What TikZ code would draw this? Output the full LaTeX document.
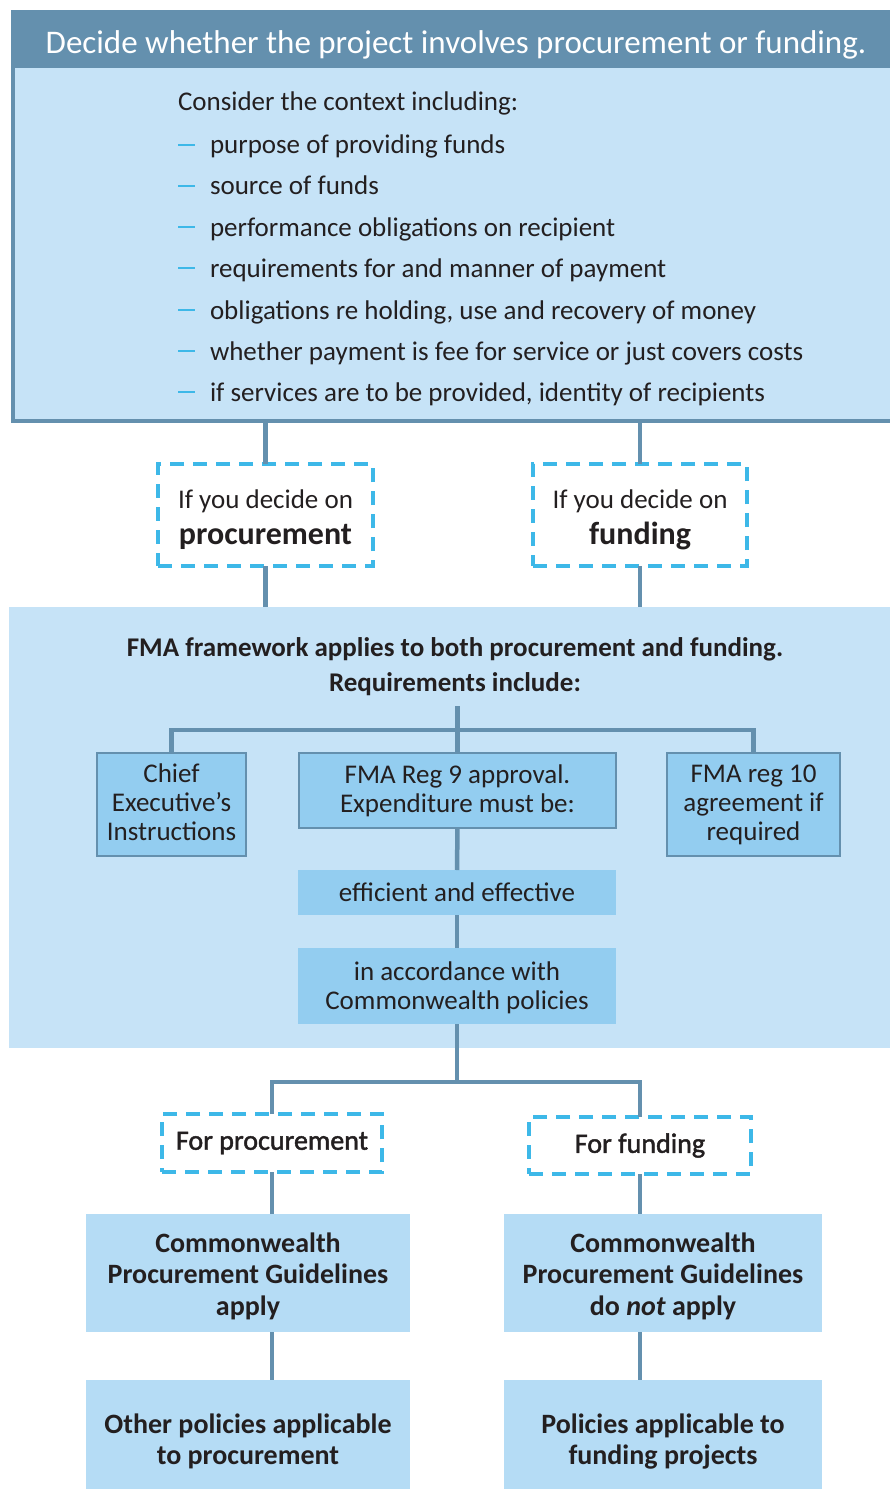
\documentclass[tikz,border=0pt]{standalone}
\usepackage{fontspec}
\setmainfont{Carlito}
\newfontfamily\semibold{Carlito}[FakeBold=1.6]
\definecolor{dark}{RGB}{100,144,174}
\definecolor{light}{RGB}{198,227,247}
\definecolor{medium}{RGB}{147,205,240}
\definecolor{pale}{RGB}{181,220,245}
\definecolor{cyanline}{RGB}{61,184,232}
\definecolor{ink}{RGB}{35,31,32}
\begin{document}
\begin{tikzpicture}[x=1pt,y=-1pt,
  every node/.style={inner sep=0pt,outer sep=0pt,text=ink},
  conn/.style={draw=dark,line width=4.5pt},
  dbox/.style={draw=cyanline,line width=4pt,dash pattern=on 14pt off 9pt,fill=white},
  midbox/.style={draw=dark,line width=2.5pt,fill=medium},
  plainbox/.style={fill=medium},
  palebox/.style={fill=pale},
  boxtext/.style={align=center,font=\fontsize{27}{29}\selectfont},
  paletext/.style={align=center,font=\bfseries\fontsize{28}{31.5}\selectfont},
  item/.style={anchor=base west,font=\fontsize{27}{30}\selectfont},
  bullet/.style={draw=cyanline,line width=1.8pt}]
\useasboundingbox (0,0) rectangle (890,1490);
\fill[white] (0,0) rectangle (890,1490);
% top box
\node[draw=dark,line width=4pt,fill=light,minimum width=884pt,minimum height=409pt,anchor=north west] (top) at (13,12) {};
\node[fill=dark,minimum width=884pt,minimum height=56pt,anchor=north west] (hdr) at (11,12) {};
\node[anchor=base,text=white,font=\fontsize{33}{38}\selectfont] (title) at (456,54) {Decide whether the project involves procurement or funding.};
\node[item] (intro) at (178,111) {Consider the context including:};
\node[item] (i1) at (210,154) {purpose of providing funds};
\node[item] (i2) at (210,195) {source of funds};
\node[item] (i3) at (210,236) {performance obligations on recipient};
\node[item] (i4) at (210,277) {requirements for and manner of payment};
\node[item] (i5) at (210,319) {obligations re holding, use and recovery of money};
\node[item] (i6) at (210,360) {whether payment is fee for service or just covers costs};
\node[item] (i7) at (210,401) {if services are to be provided, identity of recipients};
\foreach \y in {145,186,227,268,310,351,392} \draw[bullet] (178,\y) -- (195,\y);
% decision boxes
\node[dbox,minimum width=215pt,minimum height=102pt] (dp) at (265.5,515) {};
\node[align=center,font=\fontsize{27}{36}\selectfont] (dpt) at ([yshift=-5pt]dp.center)
  {If you decide on\\{\bfseries\fontsize{32}{36}\selectfont procurement}};
\node[dbox,minimum width=214pt,minimum height=102pt] (df) at (640,515) {};
\node[align=center,font=\fontsize{27}{36}\selectfont] (dft) at ([yshift=-5pt]df.center)
  {If you decide on\\{\bfseries\fontsize{32}{36}\selectfont funding}};
% panel
\node[fill=light,minimum width=886pt,minimum height=441pt] (panel) at (452,827.5) {};
\node[align=center,font=\bfseries\fontsize{27}{35}\selectfont] (ptitle) at (455,667)
  {FMA framework applies to both procurement and funding.\\Requirements include:};
\draw[conn] (top.south -| dp.north) -- (dp.north);
\draw[conn] (top.south -| df.north) -- (df.north);
\draw[conn] (dp.south) -- (dp.south |- panel.north);
\draw[conn] (df.south) -- (df.south |- panel.north);
% requirement boxes
\node[midbox,minimum width=149pt,minimum height=103pt] (ce) at (171.5,804.5) {};
\node[boxtext] (cet) at ([yshift=2pt]ce.center) {Chief\\Executive’s\\Instructions};
\node[midbox,minimum width=317pt,minimum height=75pt] (r9) at (457.5,790.5) {};
\node[boxtext] (r9t) at (r9.center) {FMA Reg 9 approval.\\Expenditure must be:};
\node[midbox,minimum width=173pt,minimum height=103pt] (r10) at (753.5,804.5) {};
\node[boxtext] (r10t) at (r10.center) {FMA reg 10\\agreement if\\required};
\node[plainbox,minimum width=318pt,minimum height=45pt] (eff) at (457,892.5) {};
\node[boxtext] (efft) at (eff.center) {efficient and effective};
\node[plainbox,minimum width=318pt,minimum height=76pt] (acc) at (457,986) {};
\node[boxtext] (acct) at ([yshift=-2pt]acc.center) {in accordance with\\Commonwealth policies};
\coordinate (req) at (457.5,706);
\coordinate (hub) at (457.5,730);
\draw[conn] (req) -- (r9.north);
\draw[conn] (ce.north) |- (hub) -| (r10.north);
\draw[conn] (r9.south) -- (eff.north);
\draw[conn] (eff.south) -- (acc.north);
% lower branch
\node[dbox,minimum width=220pt,minimum height=58pt,font=\semibold\fontsize{28}{29}\selectfont] (fp) at (272,1143) {For procurement};
\node[dbox,minimum width=222pt,minimum height=57pt,font=\semibold\fontsize{28}{29}\selectfont] (ff) at (640,1145.5) {For funding};
\coordinate (hub2) at (457,1082);
\draw[conn] (acc.south) -- (hub2);
\draw[conn] (fp.north) |- (hub2) -| (ff.north);
\node[palebox,minimum width=324pt,minimum height=118pt] (cwl) at (248,1273) {};
\node[paletext] (cwlt) at ([yshift=-3pt]cwl.center) {Commonwealth\\Procurement Guidelines\\apply};
\node[palebox,minimum width=318pt,minimum height=118pt] (cwr) at (663,1273) {};
\node[paletext] (cwrt) at ([yshift=-3pt]cwr.center) {Commonwealth\\Procurement Guidelines\\do \textit{not} apply};
\node[palebox,minimum width=324pt,minimum height=109pt] (opl) at (248,1434.5) {};
\node[paletext] (oplt) at ([yshift=-7pt]opl.center) {Other policies applicable\\to procurement};
\node[palebox,minimum width=318pt,minimum height=109pt] (opr) at (663,1434.5) {};
\node[paletext] (oprt) at ([yshift=-7pt]opr.center) {Policies applicable to\\funding projects};
\draw[conn] (fp.south) -- (fp.south |- cwl.north);
\draw[conn] (ff.south) -- (ff.south |- cwr.north);
\draw[conn] (fp.south |- cwl.south) -- (fp.south |- opl.north);
\draw[conn] (ff.south |- cwr.south) -- (ff.south |- opr.north);
\end{tikzpicture}
\end{document}
